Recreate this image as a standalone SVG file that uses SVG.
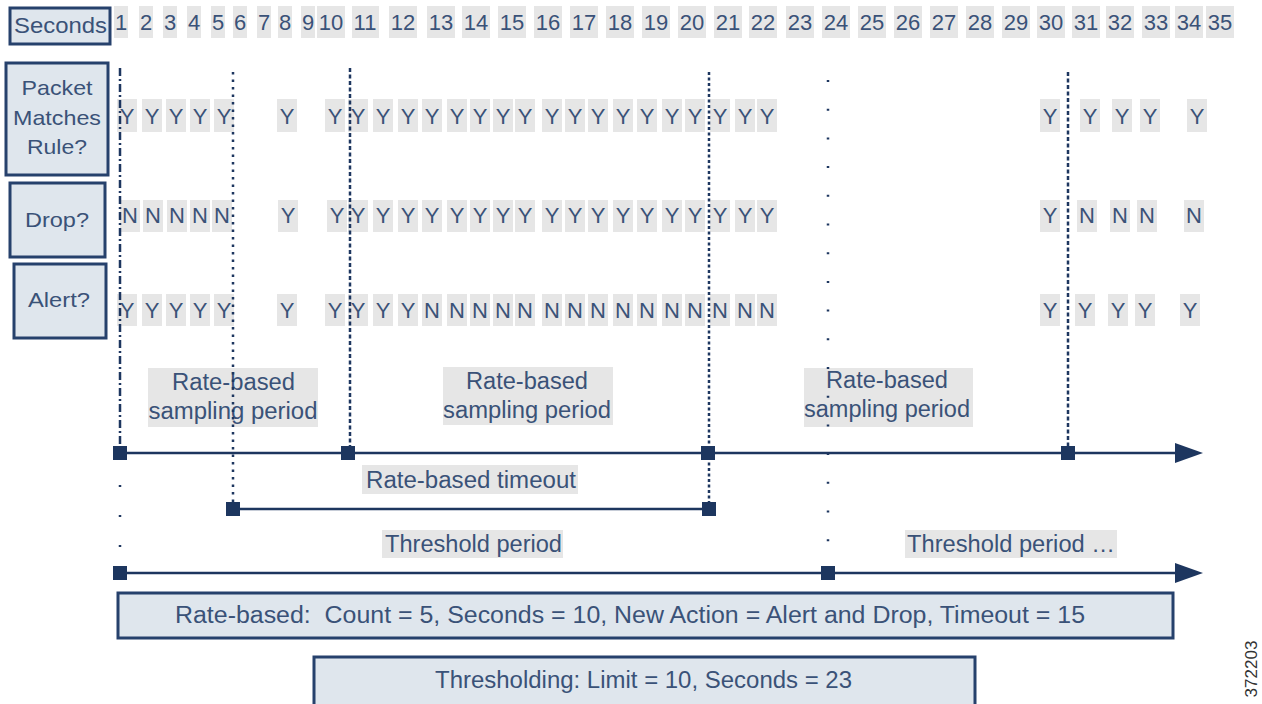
<svg xmlns="http://www.w3.org/2000/svg" width="1262" height="704" viewBox="0 0 1262 704">
<defs>
<style>
text{font-family:"Liberation Sans",Arial,sans-serif;fill:#3a5278}
.num{font-size:22px;text-anchor:middle}
.lt{font-size:22px;text-anchor:middle}
.lbl{font-size:21px;text-anchor:middle}
.big{font-size:23px}
.hdr{fill:#dfe6ed;stroke:#26416c;stroke-width:3}
.bg{fill:#e6e6e6}
.ax{stroke:#1d365f;stroke-width:2.5;fill:none}
.sq{fill:#1d365f}
.v{stroke:#1d365f;stroke-width:2.5;fill:none}
</style>
</defs>
<rect width="1262" height="704" fill="#ffffff"/>

<g id="header-seconds">
<rect class="hdr" x="10" y="8" width="100" height="36"/>
<text class="lbl" x="60.5" y="33" style="font-size:22px" textLength="93" lengthAdjust="spacingAndGlyphs">Seconds</text>
</g>
<g id="header-packet">
<rect class="hdr" x="6" y="63" width="102" height="112"/>
<text class="lbl" x="57" y="95" textLength="71" lengthAdjust="spacingAndGlyphs">Packet</text>
<text class="lbl" x="57" y="125" textLength="88" lengthAdjust="spacingAndGlyphs">Matches</text>
<text class="lbl" x="57" y="154" textLength="60" lengthAdjust="spacingAndGlyphs">Rule?</text>
</g>
<g id="header-drop">
<rect class="hdr" x="10" y="183" width="95" height="74"/>
<text class="lbl" x="57" y="227" textLength="64" lengthAdjust="spacingAndGlyphs">Drop?</text>
</g>
<g id="header-alert">
<rect class="hdr" x="14" y="264" width="92" height="74"/>
<text class="lbl" x="59" y="307" textLength="62" lengthAdjust="spacingAndGlyphs">Alert?</text>
</g>

<g id="seconds">
<g class="bg">
<rect x="114" y="6" width="14" height="32"/><rect x="139" y="6" width="14" height="32"/><rect x="163" y="6" width="14" height="32"/><rect x="187" y="6" width="14" height="32"/><rect x="211" y="6" width="14" height="32"/><rect x="233" y="6" width="14" height="32"/><rect x="257" y="6" width="14" height="32"/><rect x="278" y="6" width="14" height="32"/><rect x="301" y="6" width="14" height="32"/><rect x="317" y="6" width="28" height="32"/><rect x="352" y="6" width="27" height="32"/><rect x="389" y="6" width="28" height="32"/><rect x="427" y="6" width="28" height="32"/><rect x="462" y="6" width="28" height="32"/><rect x="498" y="6" width="28" height="32"/><rect x="534" y="6" width="28" height="32"/><rect x="570" y="6" width="28" height="32"/><rect x="606" y="6" width="28" height="32"/><rect x="642" y="6" width="28" height="32"/><rect x="678" y="6" width="28" height="32"/><rect x="714" y="6" width="28" height="32"/><rect x="749" y="6" width="28" height="32"/><rect x="786" y="6" width="28" height="32"/><rect x="822" y="6" width="28" height="32"/><rect x="858" y="6" width="28" height="32"/><rect x="894" y="6" width="28" height="32"/><rect x="930" y="6" width="28" height="32"/><rect x="966" y="6" width="28" height="32"/><rect x="1002" y="6" width="28" height="32"/><rect x="1037" y="6" width="28" height="32"/><rect x="1072" y="6" width="28" height="32"/><rect x="1106" y="6" width="28" height="32"/><rect x="1142" y="6" width="28" height="32"/><rect x="1175" y="6" width="28" height="32"/><rect x="1206" y="6" width="28" height="32"/>
</g>
<text class="num" x="121" y="30">1</text><text class="num" x="146" y="30">2</text><text class="num" x="170" y="30">3</text><text class="num" x="194" y="30">4</text><text class="num" x="218" y="30">5</text><text class="num" x="240" y="30">6</text><text class="num" x="264" y="30">7</text><text class="num" x="285" y="30">8</text><text class="num" x="308" y="30">9</text><text class="num" x="331" y="30">10</text><text class="num" x="365" y="30">11</text><text class="num" x="403" y="30">12</text><text class="num" x="441" y="30">13</text><text class="num" x="476" y="30">14</text><text class="num" x="512" y="30">15</text><text class="num" x="548" y="30">16</text><text class="num" x="584" y="30">17</text><text class="num" x="620" y="30">18</text><text class="num" x="656" y="30">19</text><text class="num" x="692" y="30">20</text><text class="num" x="728" y="30">21</text><text class="num" x="763" y="30">22</text><text class="num" x="800" y="30">23</text><text class="num" x="836" y="30">24</text><text class="num" x="872" y="30">25</text><text class="num" x="908" y="30">26</text><text class="num" x="944" y="30">27</text><text class="num" x="980" y="30">28</text><text class="num" x="1016" y="30">29</text><text class="num" x="1051" y="30">30</text><text class="num" x="1086" y="30">31</text><text class="num" x="1120" y="30">32</text><text class="num" x="1156" y="30">33</text><text class="num" x="1189" y="30">34</text><text class="num" x="1220" y="30">35</text>
</g>

<g id="row-match">
<g class="bg">
<rect x="117" y="99" width="20" height="33"/><rect x="142" y="99" width="20" height="33"/><rect x="166" y="99" width="20" height="33"/><rect x="190" y="99" width="20" height="33"/><rect x="214" y="99" width="20" height="33"/><rect x="277" y="99" width="20" height="33"/><rect x="325" y="99" width="20" height="33"/><rect x="348" y="99" width="20" height="33"/><rect x="373" y="99" width="20" height="33"/><rect x="398" y="99" width="20" height="33"/><rect x="422" y="99" width="20" height="33"/><rect x="447" y="99" width="20" height="33"/><rect x="470" y="99" width="20" height="33"/><rect x="493" y="99" width="20" height="33"/><rect x="515" y="99" width="20" height="33"/><rect x="542" y="99" width="20" height="33"/><rect x="565" y="99" width="20" height="33"/><rect x="588" y="99" width="20" height="33"/><rect x="613" y="99" width="20" height="33"/><rect x="637" y="99" width="20" height="33"/><rect x="662" y="99" width="20" height="33"/><rect x="685" y="99" width="20" height="33"/><rect x="710" y="99" width="20" height="33"/><rect x="735" y="99" width="20" height="33"/><rect x="757" y="99" width="20" height="33"/><rect x="1040" y="99" width="20" height="33"/><rect x="1080" y="99" width="20" height="33"/><rect x="1112" y="99" width="20" height="33"/><rect x="1140" y="99" width="20" height="33"/><rect x="1187" y="99" width="20" height="33"/>
</g>
<text class="lt" x="127" y="124">Y</text><text class="lt" x="152" y="124">Y</text><text class="lt" x="176" y="124">Y</text><text class="lt" x="200" y="124">Y</text><text class="lt" x="224" y="124">Y</text><text class="lt" x="287" y="124">Y</text><text class="lt" x="335" y="124">Y</text><text class="lt" x="358" y="124">Y</text><text class="lt" x="383" y="124">Y</text><text class="lt" x="408" y="124">Y</text><text class="lt" x="432" y="124">Y</text><text class="lt" x="457" y="124">Y</text><text class="lt" x="480" y="124">Y</text><text class="lt" x="503" y="124">Y</text><text class="lt" x="525" y="124">Y</text><text class="lt" x="552" y="124">Y</text><text class="lt" x="575" y="124">Y</text><text class="lt" x="598" y="124">Y</text><text class="lt" x="623" y="124">Y</text><text class="lt" x="647" y="124">Y</text><text class="lt" x="672" y="124">Y</text><text class="lt" x="695" y="124">Y</text><text class="lt" x="720" y="124">Y</text><text class="lt" x="745" y="124">Y</text><text class="lt" x="767" y="124">Y</text><text class="lt" x="1050" y="124">Y</text><text class="lt" x="1090" y="124">Y</text><text class="lt" x="1122" y="124">Y</text><text class="lt" x="1150" y="124">Y</text><text class="lt" x="1197" y="124">Y</text>
</g>

<g id="row-drop">
<g class="bg">
<rect x="120" y="200" width="20" height="32"/><rect x="143" y="200" width="20" height="32"/><rect x="167" y="200" width="20" height="32"/><rect x="190" y="200" width="20" height="32"/><rect x="212" y="200" width="20" height="32"/><rect x="278" y="200" width="20" height="32"/><rect x="327" y="200" width="20" height="32"/><rect x="348" y="200" width="20" height="32"/><rect x="373" y="200" width="20" height="32"/><rect x="398" y="200" width="20" height="32"/><rect x="422" y="200" width="20" height="32"/><rect x="447" y="200" width="20" height="32"/><rect x="470" y="200" width="20" height="32"/><rect x="493" y="200" width="20" height="32"/><rect x="515" y="200" width="20" height="32"/><rect x="542" y="200" width="20" height="32"/><rect x="565" y="200" width="20" height="32"/><rect x="588" y="200" width="20" height="32"/><rect x="613" y="200" width="20" height="32"/><rect x="637" y="200" width="20" height="32"/><rect x="662" y="200" width="20" height="32"/><rect x="685" y="200" width="20" height="32"/><rect x="710" y="200" width="20" height="32"/><rect x="735" y="200" width="20" height="32"/><rect x="757" y="200" width="20" height="32"/><rect x="1040" y="200" width="20" height="32"/><rect x="1077" y="200" width="20" height="32"/><rect x="1110" y="200" width="20" height="32"/><rect x="1137" y="200" width="20" height="32"/><rect x="1184" y="200" width="20" height="32"/>
</g>
<text class="lt" x="130" y="223">N</text><text class="lt" x="153" y="223">N</text><text class="lt" x="177" y="223">N</text><text class="lt" x="200" y="223">N</text><text class="lt" x="222" y="223">N</text><text class="lt" x="288" y="223">Y</text><text class="lt" x="337" y="223">Y</text><text class="lt" x="358" y="223">Y</text><text class="lt" x="383" y="223">Y</text><text class="lt" x="408" y="223">Y</text><text class="lt" x="432" y="223">Y</text><text class="lt" x="457" y="223">Y</text><text class="lt" x="480" y="223">Y</text><text class="lt" x="503" y="223">Y</text><text class="lt" x="525" y="223">Y</text><text class="lt" x="552" y="223">Y</text><text class="lt" x="575" y="223">Y</text><text class="lt" x="598" y="223">Y</text><text class="lt" x="623" y="223">Y</text><text class="lt" x="647" y="223">Y</text><text class="lt" x="672" y="223">Y</text><text class="lt" x="695" y="223">Y</text><text class="lt" x="720" y="223">Y</text><text class="lt" x="745" y="223">Y</text><text class="lt" x="767" y="223">Y</text><text class="lt" x="1050" y="223">Y</text><text class="lt" x="1087" y="223">N</text><text class="lt" x="1120" y="223">N</text><text class="lt" x="1147" y="223">N</text><text class="lt" x="1194" y="223">N</text>
</g>

<g id="row-alert">
<g class="bg">
<rect x="117" y="294" width="20" height="32"/><rect x="142" y="294" width="20" height="32"/><rect x="166" y="294" width="20" height="32"/><rect x="190" y="294" width="20" height="32"/><rect x="214" y="294" width="20" height="32"/><rect x="277" y="294" width="20" height="32"/><rect x="325" y="294" width="20" height="32"/><rect x="348" y="294" width="20" height="32"/><rect x="373" y="294" width="20" height="32"/><rect x="398" y="294" width="20" height="32"/><rect x="422" y="294" width="20" height="32"/><rect x="447" y="294" width="20" height="32"/><rect x="470" y="294" width="20" height="32"/><rect x="493" y="294" width="20" height="32"/><rect x="515" y="294" width="20" height="32"/><rect x="542" y="294" width="20" height="32"/><rect x="565" y="294" width="20" height="32"/><rect x="588" y="294" width="20" height="32"/><rect x="613" y="294" width="20" height="32"/><rect x="637" y="294" width="20" height="32"/><rect x="662" y="294" width="20" height="32"/><rect x="685" y="294" width="20" height="32"/><rect x="710" y="294" width="20" height="32"/><rect x="735" y="294" width="20" height="32"/><rect x="757" y="294" width="20" height="32"/><rect x="1040" y="294" width="20" height="32"/><rect x="1075" y="294" width="20" height="32"/><rect x="1108" y="294" width="20" height="32"/><rect x="1135" y="294" width="20" height="32"/><rect x="1180" y="294" width="20" height="32"/>
</g>
<text class="lt" x="127" y="318">Y</text><text class="lt" x="152" y="318">Y</text><text class="lt" x="176" y="318">Y</text><text class="lt" x="200" y="318">Y</text><text class="lt" x="224" y="318">Y</text><text class="lt" x="287" y="318">Y</text><text class="lt" x="335" y="318">Y</text><text class="lt" x="358" y="318">Y</text><text class="lt" x="383" y="318">Y</text><text class="lt" x="408" y="318">Y</text><text class="lt" x="432" y="318">N</text><text class="lt" x="457" y="318">N</text><text class="lt" x="480" y="318">N</text><text class="lt" x="503" y="318">N</text><text class="lt" x="525" y="318">N</text><text class="lt" x="552" y="318">N</text><text class="lt" x="575" y="318">N</text><text class="lt" x="598" y="318">N</text><text class="lt" x="623" y="318">N</text><text class="lt" x="647" y="318">N</text><text class="lt" x="672" y="318">N</text><text class="lt" x="695" y="318">N</text><text class="lt" x="720" y="318">N</text><text class="lt" x="745" y="318">N</text><text class="lt" x="767" y="318">N</text><text class="lt" x="1050" y="318">Y</text><text class="lt" x="1085" y="318">Y</text><text class="lt" x="1118" y="318">Y</text><text class="lt" x="1145" y="318">Y</text><text class="lt" x="1190" y="318">Y</text>
</g>

<g id="period-labels">
<rect class="bg" x="148" y="368" width="170" height="59"/>
<text class="lbl big" x="233.5" y="390" textLength="123" lengthAdjust="spacingAndGlyphs">Rate-based</text>
<text class="lbl big" x="233" y="419" textLength="169" lengthAdjust="spacingAndGlyphs">sampling period</text>
<rect class="bg" x="443" y="367" width="170" height="58"/>
<text class="lbl big" x="527" y="389" textLength="122" lengthAdjust="spacingAndGlyphs">Rate-based</text>
<text class="lbl big" x="527" y="418" textLength="168" lengthAdjust="spacingAndGlyphs">sampling period</text>
<rect class="bg" x="804" y="368" width="169" height="59"/>
<text class="lbl big" x="887" y="388" textLength="122" lengthAdjust="spacingAndGlyphs">Rate-based</text>
<text class="lbl big" x="887" y="417" textLength="166" lengthAdjust="spacingAndGlyphs">sampling period</text>
<rect class="bg" x="362" y="465" width="216" height="29"/>
<text class="lbl big" x="471" y="488" textLength="210" lengthAdjust="spacingAndGlyphs">Rate-based timeout</text>
<rect class="bg" x="382" y="530" width="181" height="28"/>
<text class="lbl big" x="473.5" y="552" textLength="177" lengthAdjust="spacingAndGlyphs">Threshold period</text>
<rect class="bg" x="905" y="530" width="212" height="28"/>
<text class="lbl big" x="1011" y="552" textLength="208" lengthAdjust="spacingAndGlyphs">Threshold period …</text>
</g>

<g id="connectors">
<line class="v" x1="120" y1="68" x2="120" y2="453" stroke-dasharray="8 3 2 3"/>
<line class="v" x1="120" y1="485" x2="120" y2="560" stroke-dasharray="2 28"/>
<line class="v" x1="233" y1="72" x2="233" y2="509" stroke-dasharray="2.5 5"/>
<line class="v" x1="350" y1="68" x2="350" y2="453" stroke-dasharray="4 2.5"/>
<line class="v" x1="709" y1="72" x2="709" y2="509" stroke-dasharray="3 2.5"/>
<line class="v" x1="828" y1="80" x2="828" y2="573" stroke-dasharray="2 26.7"/>
<line class="v" x1="1068" y1="72" x2="1068" y2="453" stroke-dasharray="4 2.5"/>

<line class="ax" x1="120" y1="453" x2="1180" y2="453"/>
<polygon class="sq" points="1175,443 1203,453 1175,463"/>
<line class="ax" x1="233" y1="509" x2="709" y2="509"/>
<line class="ax" x1="120" y1="573" x2="1180" y2="573"/>
<polygon class="sq" points="1175,563 1203,573 1175,583"/>

<rect class="sq" x="113" y="446" width="14" height="14"/>
<rect class="sq" x="341" y="446" width="14" height="14"/>
<rect class="sq" x="701" y="446" width="14" height="14"/>
<rect class="sq" x="1061" y="446" width="14" height="14"/>
<rect class="sq" x="226" y="502" width="14" height="14"/>
<rect class="sq" x="702" y="502" width="14" height="14"/>
<rect class="sq" x="113" y="566" width="14" height="14"/>
<rect class="sq" x="821" y="566" width="14" height="14"/>
</g>

<g id="rate-based-box">
<rect class="hdr" x="118" y="593" width="1055" height="45"/>
<text class="lbl big" x="630" y="623" xml:space="preserve" textLength="910" lengthAdjust="spacingAndGlyphs">Rate-based:  Count = 5, Seconds = 10, New Action = Alert and Drop, Timeout = 15</text>
</g>
<g id="thresholding-box">
<rect class="hdr" x="314" y="657" width="661" height="52"/>
<text class="lbl big" x="643.5" y="688" textLength="417" lengthAdjust="spacingAndGlyphs">Thresholding: Limit = 10, Seconds = 23</text>
</g>

<text x="1257" y="669" transform="rotate(-90 1257 669)" style="font-size:17px;text-anchor:middle;fill:#333">372203</text>
</svg>
